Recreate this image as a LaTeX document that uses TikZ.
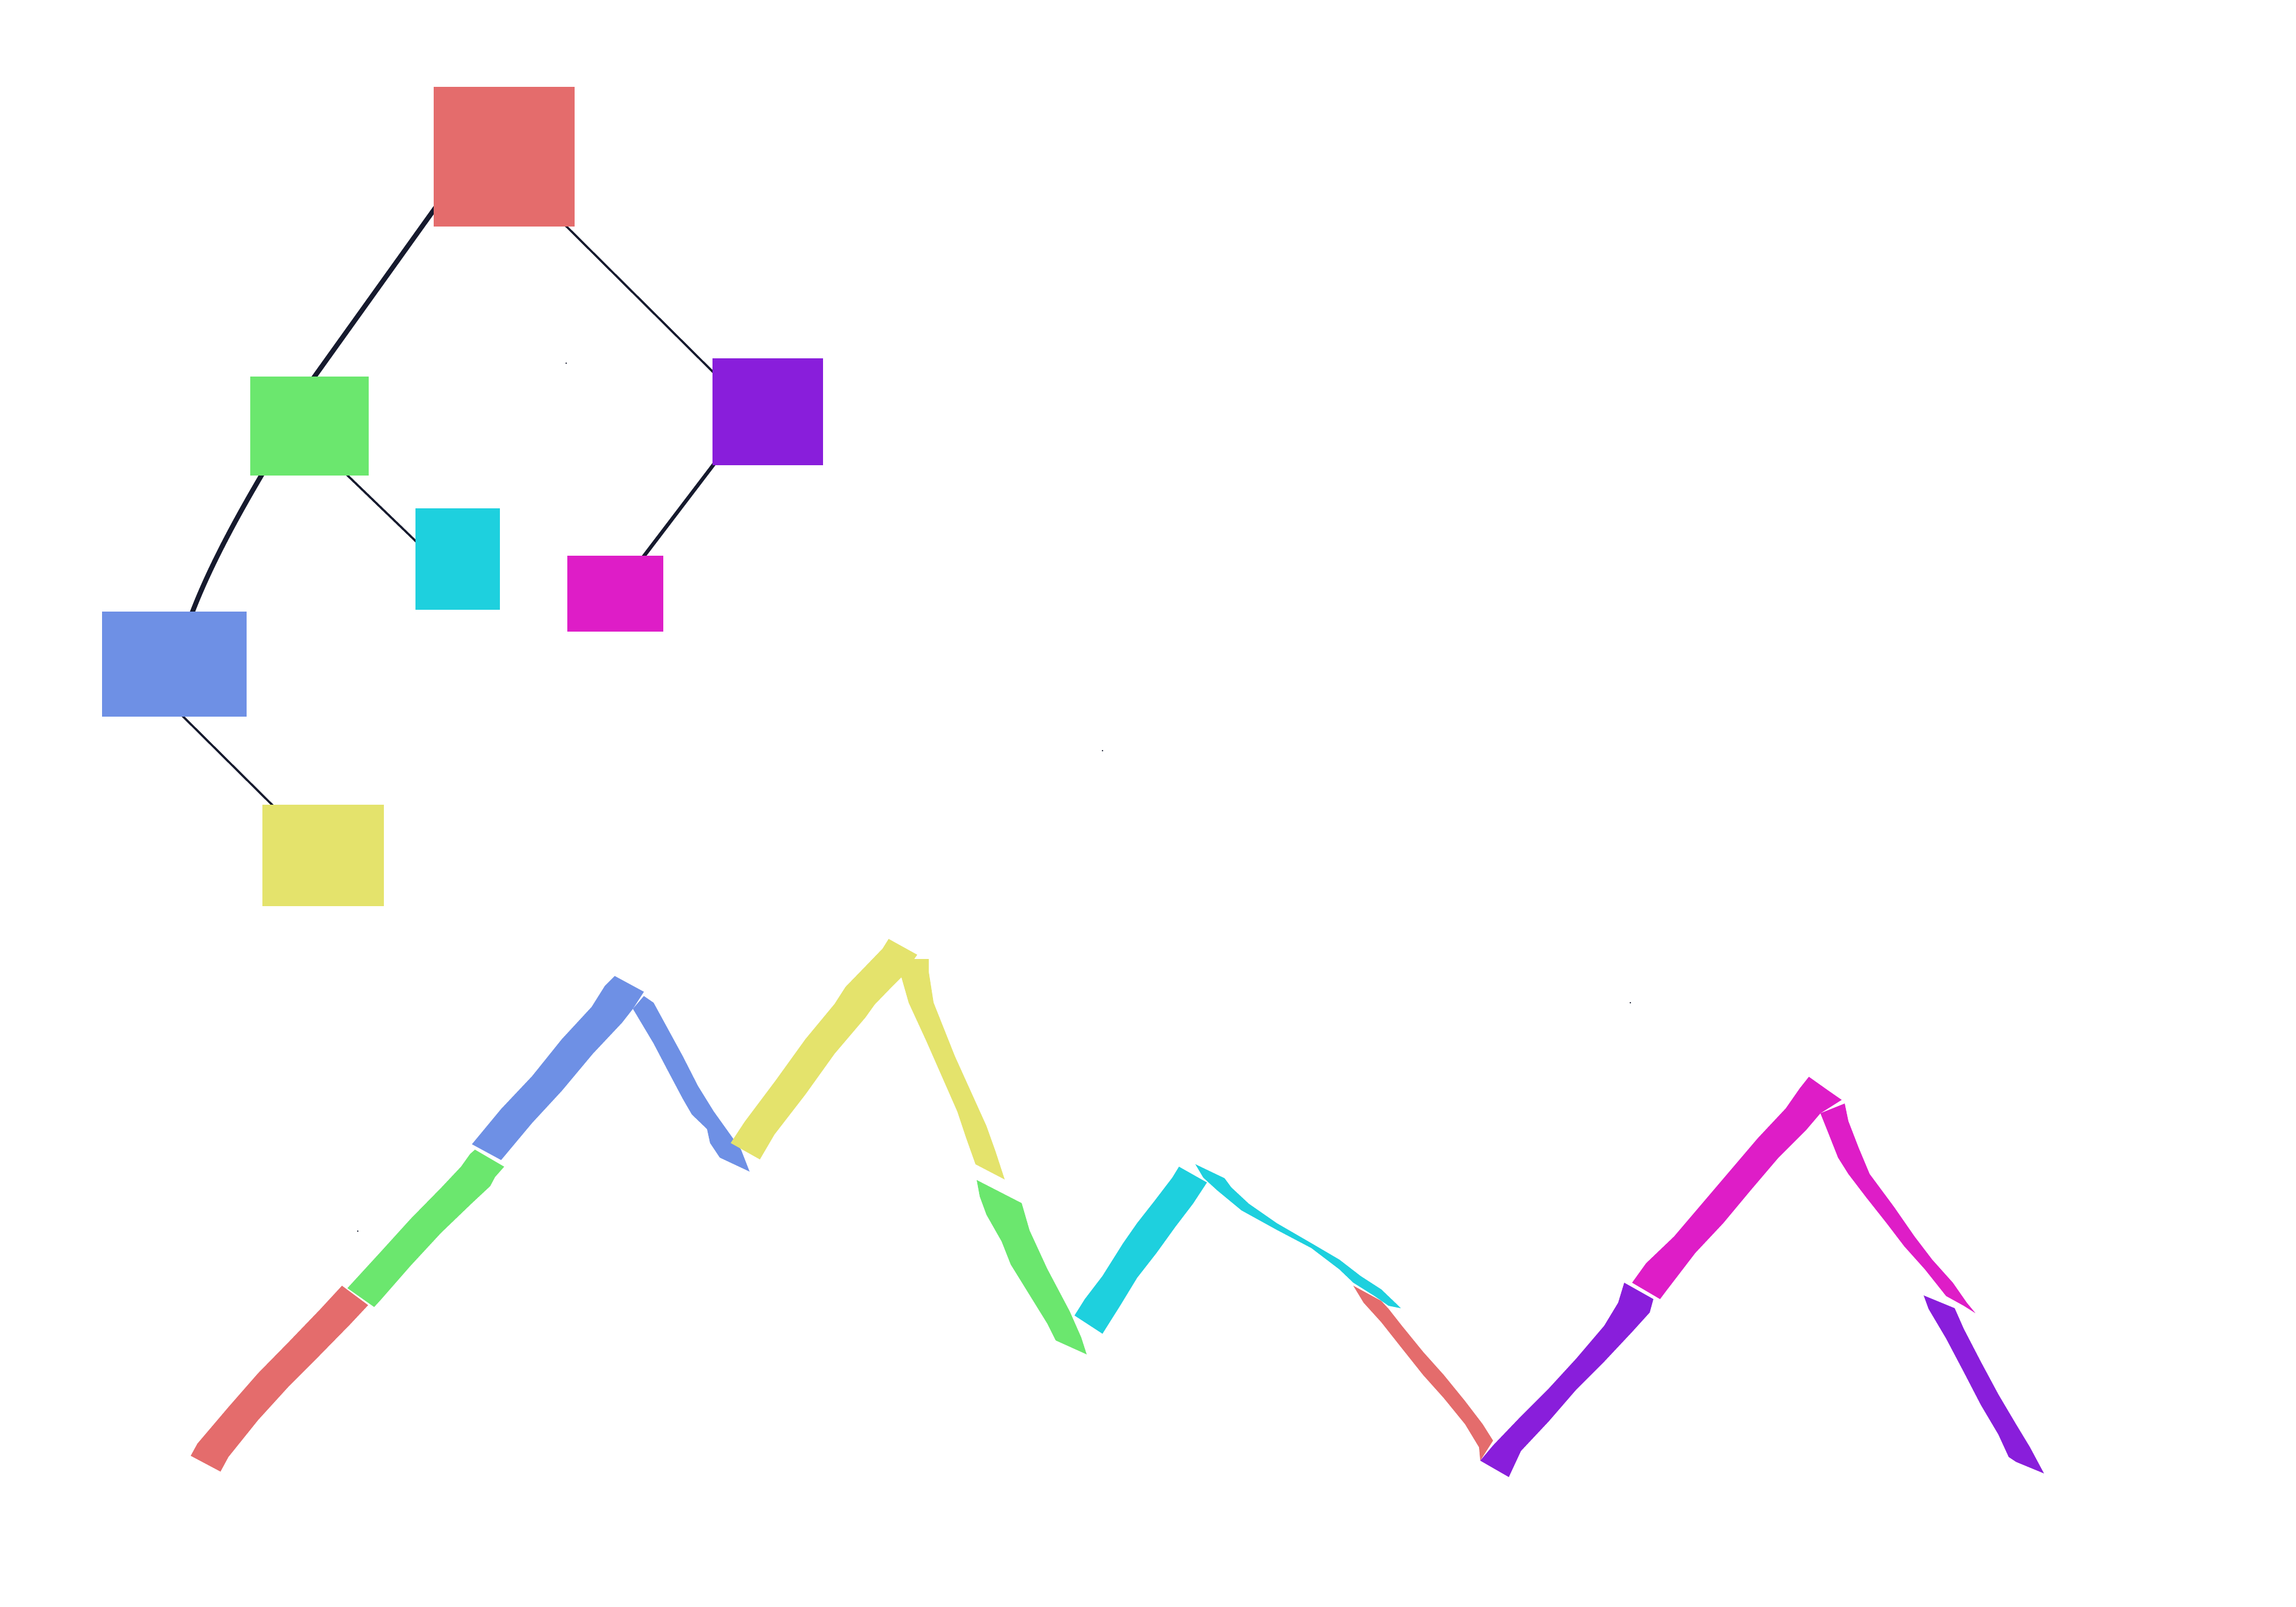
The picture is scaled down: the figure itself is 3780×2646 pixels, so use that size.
\documentclass[tikz,border=0pt]{standalone}
\usetikzlibrary{calc}
\definecolor{cred}{RGB}{228,108,108}
\definecolor{cgreen}{RGB}{107,231,110}
\definecolor{cpurple}{RGB}{137,30,219}
\definecolor{ccyan}{RGB}{30,208,222}
\definecolor{cmag}{RGB}{222,29,199}
\definecolor{cblue}{RGB}{110,144,229}
\definecolor{cyellow}{RGB}{228,227,108}
\definecolor{cedge}{RGB}{22,26,46}
\tikzset{
  box/.style={rectangle, inner sep=0pt, outer sep=0pt, draw=none},
  edge/.style={draw=cedge, line cap=round},
  dot/.style={circle, fill=cedge, inner sep=0pt, minimum size=2.5pt}
}
\begin{document}
\begin{tikzpicture}[x=1pt,y=-1pt]
\useasboundingbox (0,0) rectangle (3780,2646);
\fill[white] (0,0) rectangle (3780,2646);
% tree node positions
\coordinate (pr) at (830,258);
\coordinate (pg) at (509.5,701.5);
\coordinate (pp) at (1264,678);
\coordinate (pc) at (753.5,920.5);
\coordinate (pm) at (1013,977.5);
\coordinate (pb) at (287,1093.5);
\coordinate (py) at (532,1408.5);
\node[box, minimum width=232pt, minimum height=230pt] (red) at (pr) {};
\node[box, minimum width=195pt, minimum height=163pt] (green) at (pg) {};
\node[box, minimum width=182pt, minimum height=176pt] (purple) at (pp) {};
\node[box, minimum width=139pt, minimum height=167pt] (cyan) at (pc) {};
\node[box, minimum width=158pt, minimum height=125pt] (magenta) at (pm) {};
\node[box, minimum width=238pt, minimum height=173pt] (blue) at (pb) {};
\node[box, minimum width=200pt, minimum height=167pt] (yellow) at (py) {};
% edges
\draw[edge, line width=8pt] ($(red.center)+(-53,0)$) -- ($(green.center)+(-50,0)$);
\draw[edge, line width=3.5pt] ($(red.center)+(0,13)$) -- ($(purple.center)+(0,24)$);
\draw[edge, line width=3.5pt] ($(green.center)+(0,21)$) -- ($(cyan.center)+(0,37)$);
\draw[edge, line width=8pt] ($(green.center)+(-31.5,1.5)$) .. controls ($(green.center)+(-89.5,98.5)$) and ($(blue.center)+(33,-133.5)$) .. ($(blue.center)+(3,0)$);
\draw[edge, line width=6pt] ($(purple.center)+(-23,0)$) -- (magenta.center);
\draw[edge, line width=3.5pt] ($(blue.center)+(0,72)$) -- (yellow.center);
% visible boxes
\fill[cred] (red.south west) rectangle (red.north east);
\fill[cgreen] (green.south west) rectangle (green.north east);
\fill[cpurple] (purple.south west) rectangle (purple.north east);
\fill[ccyan] (cyan.south west) rectangle (cyan.north east);
\fill[cmag] (magenta.south west) rectangle (magenta.north east);
\fill[cblue] (blue.south west) rectangle (blue.north east);
\fill[cyellow] (yellow.south west) rectangle (yellow.north east);
% tiny dots
\node[dot] (d1) at (932,598) {};
\node[dot] (d2) at (1815,1236) {};
\node[dot] (d3) at (589,2027) {};
\node[dot] (d4) at (2684,1651) {};
% mountain path
\fill[cred] (314,2397) -- (325,2377) -- (376,2317) -- (425,2261) -- (476,2209) -- (527,2156) -- (563,2117) -- (606,2149) -- (576,2181) -- (525,2233) -- (476,2282) -- (425,2338) -- (376,2399) -- (363,2423) -- cycle;
\fill[cgreen] (572,2121) -- (627,2061) -- (676,2007) -- (727,1955) -- (759,1921) -- (774,1900) -- (782,1893) -- (830,1921) -- (815,1938) -- (807,1953) -- (777,1981) -- (726,2030) -- (676,2084) -- (627,2140) -- (616,2152) -- cycle;
\fill[cblue] (777,1884) -- (825,1826) -- (876,1772) -- (925,1711) -- (974,1658) -- (996,1623) -- (1012,1607) -- (1060,1633) -- (1042,1661) -- (1024,1684) -- (976,1735) -- (925,1796) -- (876,1849) -- (825,1910) -- cycle;
\fill[cblue] (1042,1661) -- (1060,1640) -- (1076,1651) -- (1124,1739) -- (1149,1788) -- (1175,1830) -- (1195,1858) -- (1220,1893) -- (1234,1929) -- (1185,1906) -- (1169,1882) -- (1164,1859) -- (1139,1835) -- (1124,1809) -- (1098,1760) -- (1076,1718) -- cycle;
\fill[cyellow] (1203,1882) -- (1226,1847) -- (1277,1779) -- (1326,1711) -- (1374,1653) -- (1392,1625) -- (1425,1591) -- (1453,1562) -- (1463,1546) -- (1510,1572) -- (1484,1609) -- (1470,1623) -- (1440,1654) -- (1425,1675) -- (1374,1735) -- (1326,1802) -- (1275,1868) -- (1251,1909) -- cycle;
\fill[cyellow] (1484,1609) -- (1491,1579) -- (1529,1579) -- (1529,1600) -- (1537,1651) -- (1572,1739) -- (1624,1854) -- (1639,1896) -- (1654,1942) -- (1606,1917) -- (1590,1872) -- (1576,1830) -- (1525,1714) -- (1496,1651) -- cycle;
\fill[cgreen] (1608,1943) -- (1682,1981) -- (1695,2026) -- (1724,2089) -- (1761,2159) -- (1780,2202) -- (1789,2230) -- (1738,2207) -- (1724,2179) -- (1677,2103) -- (1664,2082) -- (1649,2044) -- (1624,2000) -- (1613,1970) -- cycle;
\fill[ccyan] (1769,2166) -- (1786,2139) -- (1815,2101) -- (1849,2047) -- (1872,2014) -- (1901,1977) -- (1930,1939) -- (1941,1921) -- (1987,1947) -- (1964,1982) -- (1935,2020) -- (1904,2063) -- (1872,2104) -- (1844,2150) -- (1815,2196) -- cycle;
\fill[cred] (2228,2117) -- (2274,2142) -- (2286,2155) -- (2308,2183) -- (2343,2226) -- (2377,2264) -- (2412,2307) -- (2441,2345) -- (2458,2372) -- (2437,2405) -- (2435,2383) -- (2412,2345) -- (2377,2302) -- (2343,2264) -- (2308,2220) -- (2274,2177) -- (2245,2145) -- cycle;
\fill[ccyan] (1968,1917) -- (2016,1940) -- (2027,1955) -- (2056,1982) -- (2102,2014) -- (2159,2047) -- (2205,2074) -- (2240,2101) -- (2274,2123) -- (2297,2145) -- (2306,2154) -- (2286,2150) -- (2263,2134) -- (2228,2112) -- (2205,2090) -- (2159,2055) -- (2102,2025) -- (2044,1993) -- (2004,1960) -- (1981,1939) -- cycle;
\fill[cpurple] (2437,2405) -- (2458,2380) -- (2504,2332) -- (2550,2286) -- (2595,2237) -- (2641,2183) -- (2664,2145) -- (2674,2112) -- (2722,2139) -- (2716,2161) -- (2687,2193) -- (2641,2242) -- (2595,2288) -- (2550,2340) -- (2504,2389) -- (2484,2432) -- cycle;
\fill[cmag] (2687,2112) -- (2710,2080) -- (2756,2036) -- (2802,1982) -- (2848,1928) -- (2894,1874) -- (2940,1825) -- (2963,1792) -- (2978,1773) -- (3009,1795) -- (3032,1811) -- (2997,1833) -- (2974,1860) -- (2928,1906) -- (2882,1960) -- (2837,2014) -- (2791,2063) -- (2745,2123) -- (2733,2139) -- cycle;
\fill[cmag] (2997,1833) -- (3037,1817) -- (3043,1846) -- (3060,1890) -- (3078,1933) -- (3118,1987) -- (3152,2036) -- (3181,2074) -- (3215,2112) -- (3238,2145) -- (3252,2162) -- (3233,2150) -- (3204,2134) -- (3169,2090) -- (3135,2052) -- (3106,2014) -- (3072,1971) -- (3043,1933) -- (3026,1906) -- (3009,1863) -- cycle;
\fill[cpurple] (3167,2133) -- (3218,2154) -- (3233,2188) -- (3261,2242) -- (3290,2296) -- (3319,2345) -- (3342,2383) -- (3365,2426) -- (3319,2407) -- (3307,2399) -- (3290,2362) -- (3261,2313) -- (3233,2259) -- (3204,2204) -- (3175,2155) -- cycle;
\end{tikzpicture}
\end{document}
